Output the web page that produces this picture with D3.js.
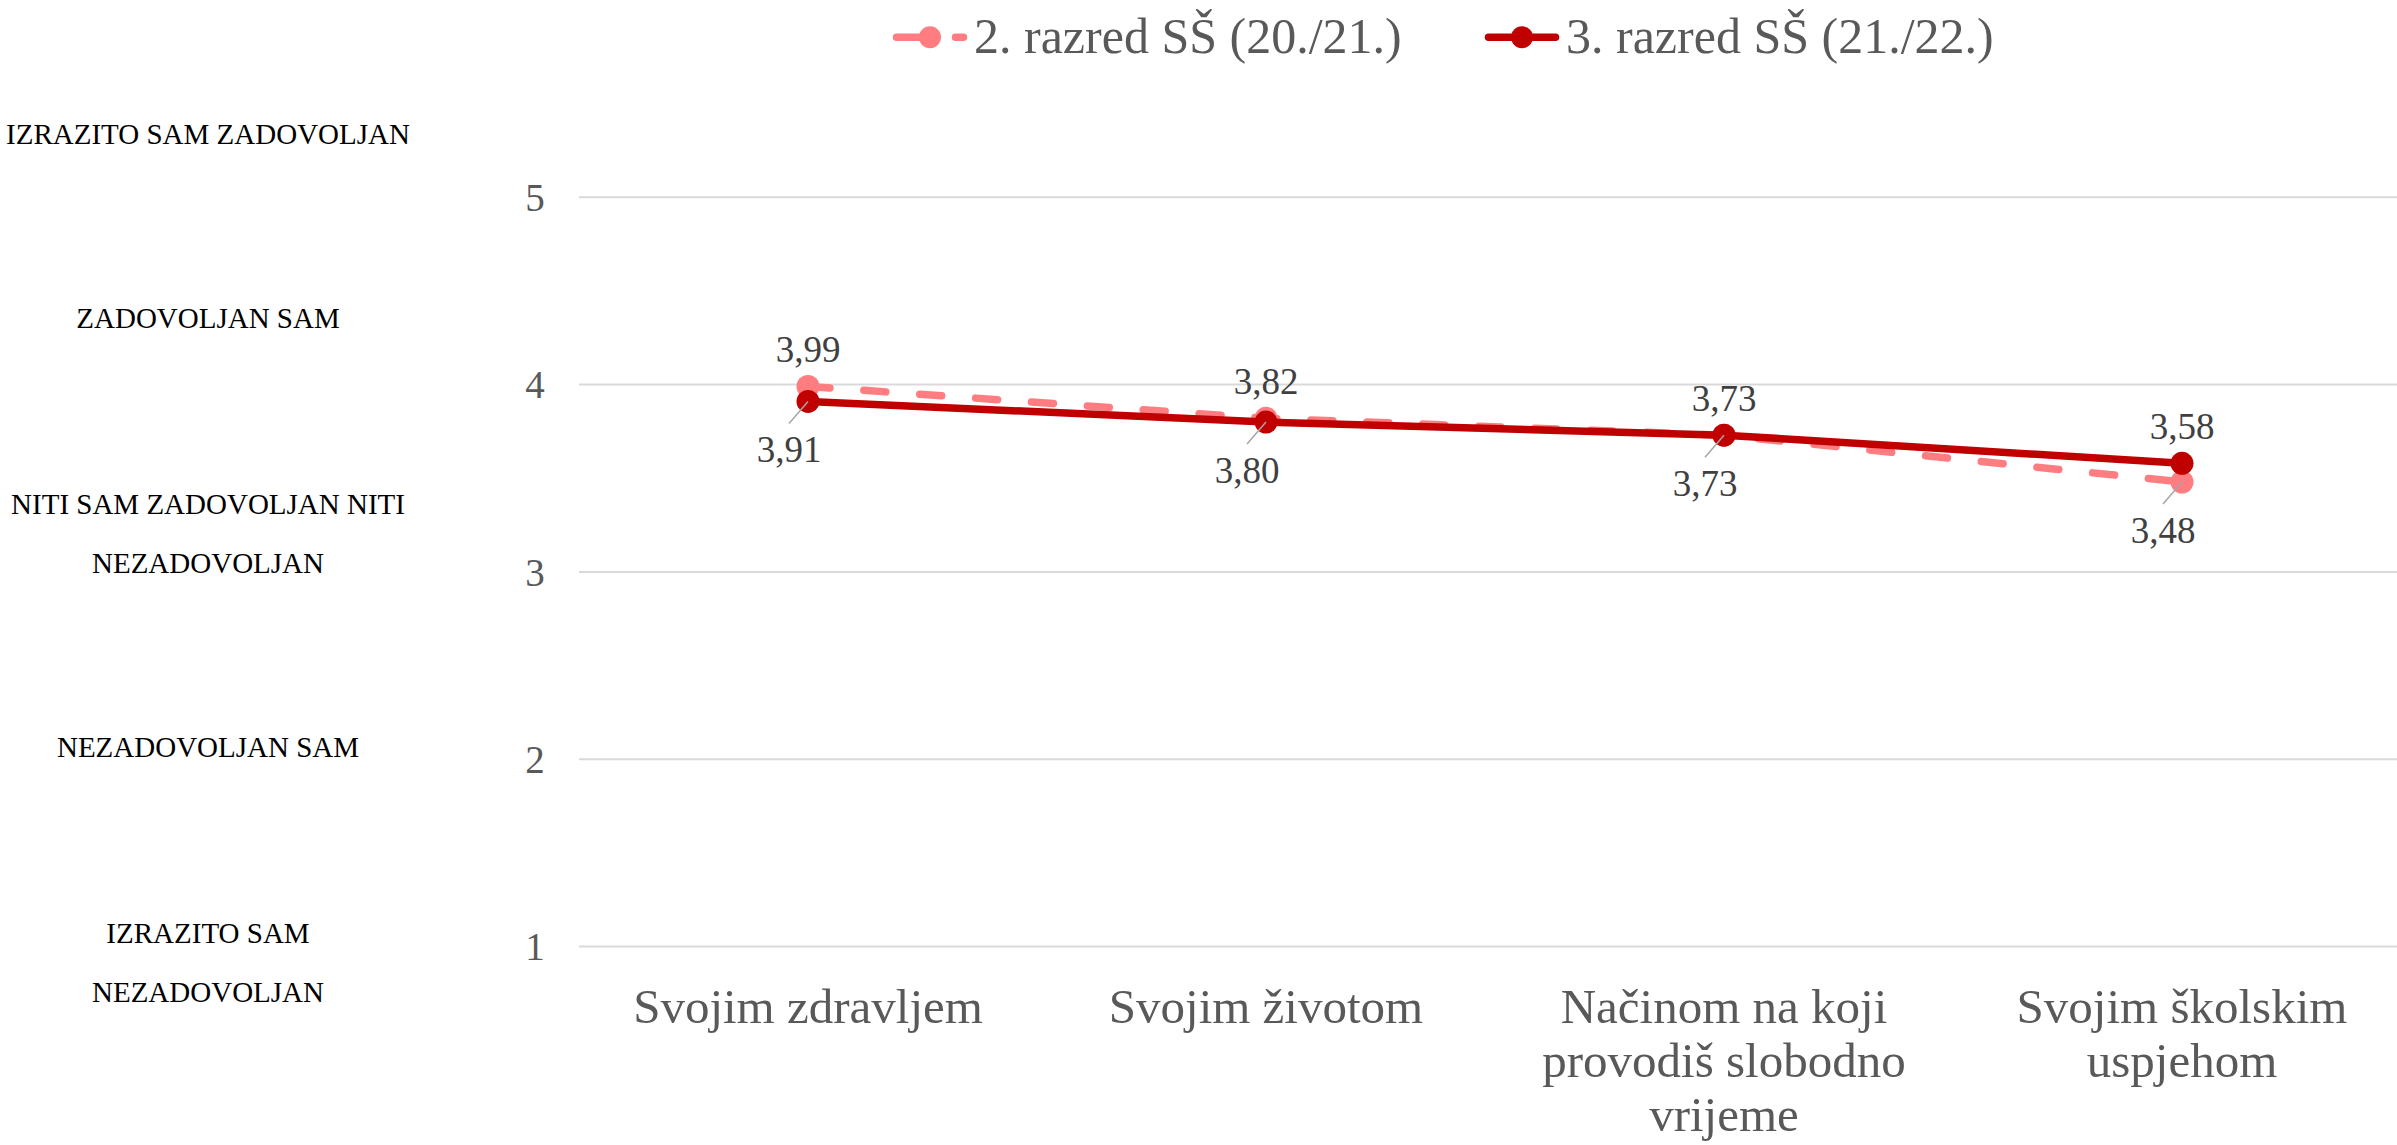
<!DOCTYPE html>
<html>
<head>
<meta charset="utf-8">
<script src="https://cdn.jsdelivr.net/npm/d3@7"></script>
<style>
  body { margin: 0; background: #fff; }
  text { font-family: "Liberation Serif", "DejaVu Serif", serif; }
</style>
</head>
<body>
<svg id="chart" width="2397" height="1145"></svg>
<script>
// ***************** DATA ********************
var categories = [
	["Svojim zdravljem"],
	["Svojim životom"],
	["Načinom na koji", "provodiš slobodno", "vrijeme"],
	["Svojim školskim", "uspjehom"]
];
var seriesNames = ["2. razred SŠ (20./21.)", "3. razred SŠ (21./22.)"];
var values2020 = [3.99, 3.82, 3.73, 3.48];
var values2021 = [3.91, 3.80, 3.73, 3.58];
// where excel put each data label
var labelSide2020 = ["above", "above", "below", "below"];
var labelSide2021 = ["below", "below", "above", "above"];
var yTicks = [1, 2, 3, 4, 5];
var scaleNames = [
	["IZRAZITO SAM ZADOVOLJAN"],
	["ZADOVOLJAN SAM"],
	["NITI SAM ZADOVOLJAN NITI", "NEZADOVOLJAN"],
	["NEZADOVOLJAN SAM"],
	["IZRAZITO SAM", "NEZADOVOLJAN"]
];
// first baseline of each text box on the left
var scaleNameTop = [144, 328, 514, 757, 943];

var pink = "#FF7C80", red = "#C00000";
var svg = d3.select("#chart");

// ***************** SCALES ********************
var x = d3.scalePoint()
	.domain(d3.range(categories.length))
	.range([579, 2411])
	.padding(0.5);
var y = d3.scaleLinear().domain([1, 5]).range([946.5, 197.3]);

// ***************** GRID + Y AXIS ********************
svg.append("g")
	.selectAll("line")
	.data(yTicks)
	.enter()
	.append("line")
	.attr("x1", 579)
	.attr("x2", 2397)
	.attr("y1", function(d) { return y(d) })
	.attr("y2", function(d) { return y(d) })
	.attr("stroke", "#D9D9D9")
	.attr("stroke-width", 2)

svg.append("g")
	.selectAll("text")
	.data(yTicks)
	.enter()
	.append("text")
	.attr("x", 535)
	.attr("y", function(d) { return y(d) })
	.attr("dy", ".35em")
	.attr("text-anchor", "middle")
	.attr("font-size", 39)
	.attr("fill", "#595959")
	.text(function(d) { return d })

// ***************** LEFT SCALE NAMES ********************
scaleNames.forEach(function(lines, i) {
	svg.append("text")
		.attr("text-anchor", "middle")
		.attr("font-size", 29)
		.attr("fill", "#000")
		.selectAll("tspan")
		.data(lines)
		.enter()
		.append("tspan")
		.attr("x", 208)
		.attr("y", function(d, j) { return scaleNameTop[i] + j * 59 })
		.text(function(d) { return d })
});

// ***************** X CATEGORY LABELS ********************
categories.forEach(function(lines, i) {
	svg.append("text")
		.attr("text-anchor", "middle")
		.attr("font-size", 49)
		.attr("fill", "#595959")
		.selectAll("tspan")
		.data(lines)
		.enter()
		.append("tspan")
		.attr("x", x(i))
		.attr("y", function(d, j) { return 1023 + j * 54 })
		.text(function(d) { return d })
});

// ***************** SERIES ********************
var line = d3.line()
	.x(function(d, i) { return x(i) })
	.y(function(d) { return y(d) });

var drawSeries = function(values, color, dash) {
	svg.append("path")
		.datum(values)
		.attr("d", line)
		.attr("fill", "none")
		.attr("stroke", color)
		.attr("stroke-width", 7.5)
		.attr("stroke-linecap", "round")
		.attr("stroke-linejoin", "round")
		.attr("stroke-dasharray", dash || null)
	svg.append("g")
		.selectAll("circle")
		.data(values)
		.enter()
		.append("circle")
		.attr("cx", function(d, i) { return x(i) })
		.attr("cy", function(d) { return y(d) })
		.attr("r", 11.5)
		.attr("fill", color)
}
drawSeries(values2020, pink, "22,34");
drawSeries(values2021, red);

// ***************** DATA LABELS ********************
var drawLabels = function(values, sides) {
	values.forEach(function(v, i) {
		var px = x(i), py = y(v);
		var fmt = v.toFixed(2).replace(".", ",");
		if (sides[i] === "above") {
			svg.append("text")
				.attr("x", px)
				.attr("y", py - 24)
				.attr("text-anchor", "middle")
				.attr("font-size", 37)
				.attr("fill", "#404040")
				.text(fmt)
		} else {
			var lx = px - 19, ly = py + 61;
			svg.append("line")
				.attr("x1", lx)
				.attr("y1", ly - 39)
				.attr("x2", px)
				.attr("y2", py)
				.attr("stroke", "#A6A6A6")
				.attr("stroke-width", 1.5)
			svg.append("text")
				.attr("x", lx)
				.attr("y", ly)
				.attr("text-anchor", "middle")
				.attr("font-size", 37)
				.attr("fill", "#404040")
				.text(fmt)
		}
	});
}
drawLabels(values2020, labelSide2020);
drawLabels(values2021, labelSide2021);

// ***************** LEGEND ********************
var legend = [
	{ name: seriesNames[0], color: pink, dash: "40,19", x: 893 },
	{ name: seriesNames[1], color: red, dash: null, x: 1485 }
];
legend.forEach(function(d) {
	svg.append("line")
		.attr("x1", d.x + 3.5)
		.attr("x2", d.x + 70.5)
		.attr("y1", 37.3)
		.attr("y2", 37.3)
		.attr("stroke", d.color)
		.attr("stroke-width", 7.5)
		.attr("stroke-linecap", "round")
		.attr("stroke-dasharray", d.dash)
	svg.append("circle")
		.attr("cx", d.x + 37)
		.attr("cy", 37.3)
		.attr("r", 11)
		.attr("fill", d.color)
	svg.append("text")
		.attr("x", d.x + 81)
		.attr("y", 53.3)
		.attr("font-size", 50)
		.attr("fill", "#595959")
		.text(d.name)
});
</script>
</body>
</html>
